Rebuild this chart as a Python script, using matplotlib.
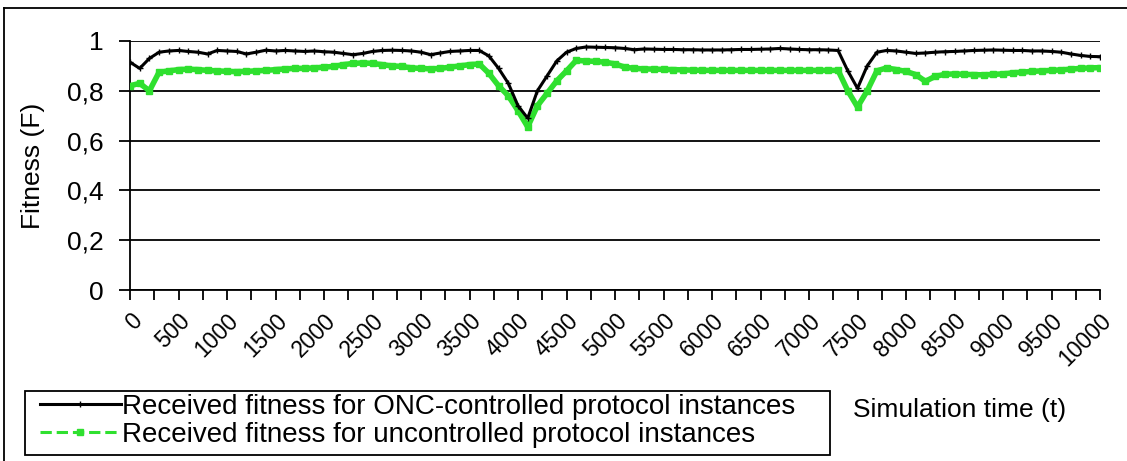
import matplotlib
matplotlib.use('Agg')
import matplotlib.pyplot as plt
import numpy as np
from matplotlib.lines import Line2D
from matplotlib.patches import Rectangle
from matplotlib.ticker import FuncFormatter, MultipleLocator

plt.rcParams['font.family'] = ['Liberation Sans', 'DejaVu Sans']

# simulation time, one value every 100 steps
time_steps = list(range(0, 10001, 100))

onc_fitness = [
    0.915, 0.89, 0.93, 0.955, 0.96, 0.962, 0.958, 0.955, 0.948, 0.962,
    0.96, 0.958, 0.948, 0.955, 0.963, 0.96, 0.962, 0.96, 0.958, 0.96,
    0.957, 0.955, 0.95, 0.945, 0.95, 0.958, 0.962, 0.963, 0.962, 0.96,
    0.955, 0.945, 0.952, 0.958, 0.96, 0.962, 0.962, 0.94, 0.89, 0.83,
    0.74, 0.69, 0.8, 0.86, 0.92, 0.955, 0.97, 0.976, 0.975, 0.974,
    0.973, 0.97, 0.965, 0.968, 0.967, 0.966, 0.966, 0.965, 0.965, 0.964,
    0.964, 0.964, 0.965, 0.966, 0.966, 0.967, 0.968, 0.97, 0.968, 0.966,
    0.965, 0.965, 0.964, 0.962, 0.88, 0.81, 0.9, 0.955, 0.962, 0.96,
    0.955, 0.95, 0.952, 0.955, 0.957, 0.958, 0.96, 0.962, 0.963, 0.964,
    0.963, 0.962, 0.962, 0.96, 0.96, 0.958, 0.955, 0.948, 0.942, 0.938,
    0.937,
]

unc_fitness = [
    0.82, 0.83, 0.80, 0.875, 0.88, 0.885, 0.887, 0.885, 0.882, 0.88,
    0.878, 0.877, 0.878, 0.88, 0.882, 0.885, 0.888, 0.89, 0.89, 0.892,
    0.895, 0.898, 0.905, 0.91, 0.912, 0.91, 0.905, 0.9, 0.898, 0.892,
    0.89, 0.888, 0.89, 0.895, 0.9, 0.905, 0.908, 0.87, 0.82, 0.78,
    0.72, 0.655, 0.74, 0.79, 0.84, 0.88, 0.922, 0.92, 0.918, 0.915,
    0.908, 0.895, 0.89, 0.888, 0.887, 0.886, 0.885, 0.884, 0.883, 0.882,
    0.882, 0.882, 0.882, 0.882, 0.882, 0.882, 0.882, 0.882, 0.882, 0.882,
    0.882, 0.882, 0.882, 0.882, 0.8, 0.735, 0.8, 0.88, 0.892, 0.885,
    0.878, 0.865, 0.838, 0.858, 0.866, 0.868, 0.866, 0.865, 0.864, 0.866,
    0.868, 0.872, 0.875, 0.878, 0.88, 0.882, 0.884, 0.887, 0.89, 0.892,
    0.893,
]

labels = ['Received fitness for ONC-controlled protocol instances',
          'Received fitness for uncontrolled protocol instances']

GREEN = '#2fe02f'
W, H = 1127, 461

fig = plt.figure(figsize=(W / 100, H / 100), dpi=100)
ax = fig.add_axes([130 / W, 1 - 290 / H, 970 / W, 249 / H])

ax.plot(time_steps, unc_fitness, color=GREEN, linewidth=4,
        marker='s', markersize=4.5, zorder=3)
ax.plot(time_steps, onc_fitness, color='black', linewidth=2.2,
        marker='+', markersize=4, zorder=4)

ax.set_xlim(0, 10000)
ax.set_ylim(0, 1)
ax.yaxis.set_major_locator(MultipleLocator(0.2))
ax.yaxis.set_major_formatter(FuncFormatter(lambda v, p: ('%g' % round(v, 1)).replace('.', ',')))
ax.grid(axis='y', color='black', linewidth=1.3)
ax.set_axisbelow(True)

ax.xaxis.set_major_locator(MultipleLocator(500))
ax.xaxis.set_minor_locator(MultipleLocator(250))
ax.tick_params(axis='x', which='both', direction='out', length=7, width=1.3,
               labelsize=16.5, pad=7)
ax.tick_params(axis='y', direction='out', length=8, width=1.3, labelsize=19, pad=11)
for lbl in ax.get_xticklabels():
    lbl.set_rotation(45)
    lbl.set_ha('right')
    lbl.set_va('top')
    lbl.set_rotation_mode('anchor')

for side in ['top', 'right']:
    ax.spines[side].set_visible(False)
for side in ['left', 'bottom']:
    ax.spines[side].set_linewidth(1.3)

ax.set_ylabel('Fitness (F)', fontsize=19, labelpad=16)

fig.text(960 / W, 1 - 410 / H, 'Simulation time (t)', fontsize=19,
         ha='center', va='center')

# legend with its own frame
proxies = [
    Line2D([], [], color='black', linewidth=2.2, marker='+', markersize=5),
    Line2D([], [], color=GREEN, linewidth=2.2, linestyle='--', marker='s', markersize=5),
]
fig.add_artist(Rectangle((25 / W, 1 - 455 / H), 805 / W, 64 / H, transform=fig.transFigure,
                         fill=False, edgecolor='black', linewidth=1.3))
leg = fig.legend(proxies, labels, loc='center left',
                 bbox_to_anchor=(40 / W, 1 - 421 / H), fontsize=20,
                 frameon=False, handlelength=2.9, handletextpad=0.05,
                 borderpad=0, labelspacing=0.08, borderaxespad=0)

# outer frame of the figure
fig.add_artist(Line2D([4 / W, 4 / W], [0, 1 - 8 / H], color='black',
                      linewidth=1.3, transform=fig.transFigure))
fig.add_artist(Line2D([4 / W, 1], [1 - 8 / H, 1 - 8 / H], color='black',
                      linewidth=1.3, transform=fig.transFigure))

fig.savefig('out.png', dpi=100)
